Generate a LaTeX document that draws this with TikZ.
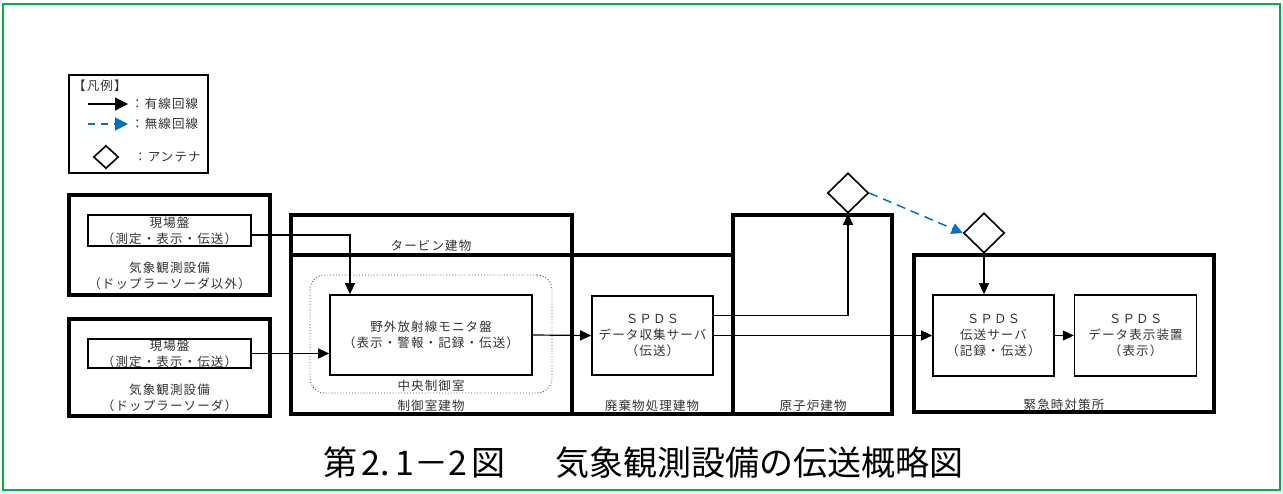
\documentclass[tikz,border=0pt]{standalone}
\usepackage{fontspec}
\setmainfont{Noto Sans CJK JP}
\newfontfamily\jpfont[LetterSpace=9]{Noto Sans CJK JP}
\newfontfamily\capfont{Noto Sans CJK JP}
\usepackage{tikz}
\usetikzlibrary{positioning,arrows.meta,shapes.geometric}
\definecolor{wxGreen}{RGB}{0,176,80}
\definecolor{wxBlue}{RGB}{0,112,192}
\definecolor{wxText}{RGB}{50,50,50}

\begin{document}
\begin{tikzpicture}[
    x=1pt, y=-1pt,
    every node/.style={font=\jpfont\fontsize{12.5}{16}\selectfont, text=wxText},
    panel node/.style={rectangle, draw, line width=1.6pt, align=center, inner sep=0pt, fill=white},
    room node/.style={rectangle, rounded corners=15pt, draw=black!70, dotted, line width=0.9pt, inner sep=0pt},
    place label/.style={align=center, inner sep=0pt},
    building/.style={draw, line width=3.6pt},
    wire/.style={line width=1.2pt, -{Triangle[length=11pt,width=10pt]}},
    radio/.style={wxBlue, line width=1.5pt, dash pattern=on 9pt off 6pt, -{Triangle[length=11pt,width=11pt]}},
    antenna/.style={diamond, draw, line width=1.6pt, minimum width=41pt, minimum height=40pt, inner sep=0pt, fill=white}
]
  \useasboundingbox (0,0) rectangle (1283,493);
  \draw[wxGreen, line width=2.6pt] (3,4) rectangle (1280,490);

  \draw[line width=2.4pt] (69,75) rectangle (208,173);
  \node[place label, anchor=west] (legtitle) at (73,86) {【凡例】};
  \coordinate (lga) at (88,104);
  \coordinate (lgb) at (128,104);
  \coordinate (lgc) at (88,124);
  \coordinate (lgd) at (128,124);
  \draw[wire, -{Triangle[length=13pt,width=13pt]}] (lga) -- (lgb);
  \draw[radio, dash pattern=on 7pt off 6pt, -{Triangle[length=13pt,width=13pt]}] (lgc) -- (lgd);
  \node[place label, anchor=west] (legwire) at (131,104) {：有線回線};
  \node[place label, anchor=west] (legradio) at (131,124) {：無線回線};
  \node[antenna, minimum width=25pt, minimum height=23pt] (legant) at (106,157) {};
  \node[place label, anchor=west] (legantlbl) at (134,157) {：アンテナ};

  \draw[building] (69,195) rectangle (270,295);
  \draw[building] (69,319) rectangle (270,416);
  \node[panel node, minimum width=163pt, minimum height=31pt] (genba1) at (169.5,230.5) {現場盤\\（測定・表示・伝送）};
  \node[panel node, minimum width=163pt, minimum height=29pt] (genba2) at (169.5,353.5) {現場盤\\（測定・表示・伝送）};
  \node[place label] (wx1lbl) at (169.5,276) {気象観測設備\\（ドップラーソーダ以外）};
  \node[place label] (wx2lbl) at (169.5,398) {気象観測設備\\（ドップラーソーダ）};

  \draw[building] (291,215) rectangle (572,414);
  \draw[building] (291,255) -- (733,255);
  \draw[building] (572,255) rectangle (733,414);
  \draw[building] (733,215) rectangle (892,414);
  \draw[building] (914,255) rectangle (1214,412);
  \node[place label] (turbinelbl) at (431,246) {タービン建物};
  \node[place label] (ctrlbldlbl) at (431,406) {制御室建物};
  \node[place label] (wastelbl) at (652,406) {廃棄物処理建物};
  \node[place label] (reactorlbl) at (813,406) {原子炉建物};
  \node[place label] (erclbl) at (1064,405) {緊急時対策所};

  \node[room node, minimum width=242pt, minimum height=118pt] (ccr) at (431,334) {};
  \node[place label] (ccrlbl) at (431,386) {中央制御室};
  \node[panel node, minimum width=202pt, minimum height=80pt] (monitor) at (431,335) {野外放射線モニタ盤\\（表示・警報・記録・伝送）};
  \node[panel node, minimum width=121pt, minimum height=79pt] (spdsc) at (652.5,335.5) {ＳＰＤＳ\\データ収集サーバ\\（伝送）};
  \node[panel node, minimum width=121pt, minimum height=81pt] (spdst) at (993.5,335.5) {ＳＰＤＳ\\伝送サーバ\\（記録・伝送）};
  \node[panel node, minimum width=122pt, minimum height=81pt] (spdsd) [right=19pt of spdst] {ＳＰＤＳ\\データ表示装置\\（表示）};

  \node[antenna] (ant1) at (848,193) {};
  \node[antenna] (ant2) at (984,233) {};

  \draw[wire] ([yshift=-4.5pt]genba1.east) -| ([xshift=-81pt]monitor.north);
  \draw[wire] (genba2.east) -- (genba2.east -| monitor.west);
  \draw[wire] (monitor.east) -- (spdsc.west);
  \draw[wire] ([yshift=20pt]spdsc.east) -| (ant1.south);
  \draw[wire] (spdsc.east) -- (spdst.west);
  \draw[radio] (ant1.east) -- (ant2.west);
  \draw[wire] (ant2.south) -- (ant2.south |- spdst.north);
  \draw[wire] (spdst.east) -- (spdsd.west);

  \node[font=\capfont\fontsize{34}{38}\selectfont, text=black, inner sep=0pt] (caption) at (643.5,463) {第\hspace{4pt}2.\hspace{5pt}1－2\hspace{4pt}図\hspace{50pt}気象観測設備の伝送概略図};
\end{tikzpicture}
\end{document}
